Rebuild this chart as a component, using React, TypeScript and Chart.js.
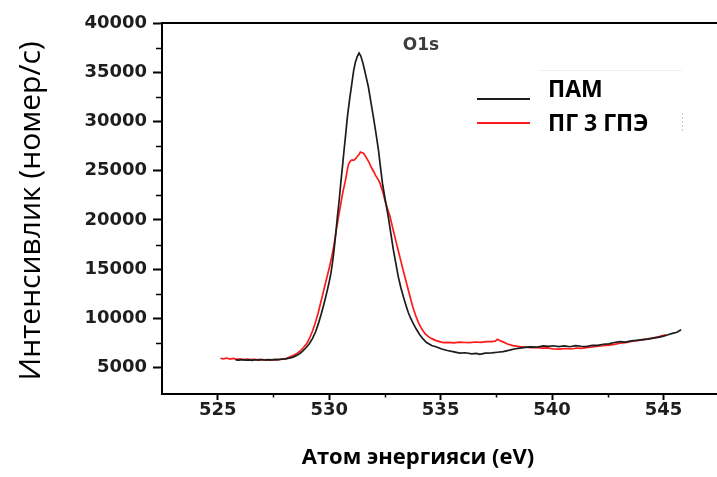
import React, { useEffect, useRef } from 'react';
import { Chart, registerables } from 'chart.js';

Chart.register(...registerables);

const W = 717;
const H = 477;

// Binding energy (eV) and intensity (counts/s) for the O1s region
const pamEnergy = [
  525.8, 525.95, 526.1, 526.25, 526.4, 526.55, 526.7, 526.85, 527.0, 527.15, 527.3, 527.45, 527.6, 527.75,
  527.9, 528.05, 528.2, 528.35, 528.5, 528.65, 528.8, 528.95, 529.1, 529.25, 529.4, 529.52, 529.65, 529.78,
  529.9, 530.0, 530.08, 530.15, 530.22, 530.3, 530.37, 530.45, 530.52, 530.6, 530.67, 530.75, 530.82, 530.92,
  531.02, 531.1, 531.18, 531.26, 531.34, 531.42, 531.5, 531.58, 531.66, 531.76, 531.87, 531.98, 532.1, 532.21,
  532.3, 532.39, 532.52, 532.65, 532.77, 532.88, 533.0, 533.1, 533.22, 533.33, 533.45, 533.55, 533.66, 533.77,
  533.9, 534.05, 534.2, 534.37, 534.6, 534.82, 535.05, 535.3, 535.6, 535.86, 536.1, 536.4, 536.6, 536.76,
  537.0, 537.3, 537.55, 537.8, 538.1, 538.3, 538.55, 538.8, 539.0, 539.3, 539.6, 539.85, 540.04, 540.3,
  540.55, 540.8, 541.05, 541.3, 541.53, 541.8, 542.05, 542.3, 542.55, 542.8, 543.03, 543.3, 543.55, 543.8,
  544.05, 544.3, 544.52, 544.75, 545.0, 545.2, 545.4, 545.6, 545.79,
];
const pamCounts = [
  5790, 5760, 5820, 5770, 5800, 5740, 5810, 5780, 5830, 5770, 5810, 5790, 5850, 5830,
  5880, 5900, 5980, 6050, 6200, 6400, 6650, 7000, 7400, 7950, 8700, 9500, 10500, 11600,
  12700, 13700, 14600, 15700, 16960, 18700, 20350, 22000, 23740, 25500, 27130, 28900, 30510, 32300,
  33900, 35200, 36050, 36600, 36950, 36650, 36050, 35300, 34500, 33500, 32000, 30510, 28800, 27130,
  25400, 23740, 22000, 20350, 18600, 16960, 15500, 14250, 13100, 12200, 11300, 10600, 10000, 9500,
  8950, 8400, 7950, 7550, 7250, 7100, 6900, 6750, 6600, 6480, 6520, 6410, 6450, 6360,
  6480, 6500, 6570, 6640, 6780, 6900, 6990, 7060, 7120, 7080, 7220, 7170, 7230, 7150,
  7210, 7130, 7240, 7180, 7150, 7280, 7260, 7380, 7420, 7560, 7640, 7600, 7720, 7780,
  7850, 7900, 8010, 8080, 8200, 8350, 8480, 8600, 8850,
];

const pgEnergy = [
  525.12, 525.25, 525.4, 525.55, 525.7, 525.85, 526.0, 526.15, 526.3, 526.45, 526.6, 526.75, 526.9, 527.05,
  527.2, 527.35, 527.5, 527.65, 527.8, 527.95, 528.1, 528.25, 528.4, 528.55, 528.7, 528.85, 529.0, 529.12,
  529.25, 529.37, 529.5, 529.62, 529.75, 529.88, 530.0, 530.12, 530.22, 530.32, 530.42, 530.52, 530.62, 530.72,
  530.8, 530.86, 530.94, 531.02, 531.1, 531.18, 531.26, 531.34, 531.4, 531.46, 531.54, 531.62, 531.7, 531.8,
  531.9, 532.0, 532.1, 532.2, 532.28, 532.4, 532.5, 532.62, 532.73, 532.85, 533.0, 533.1, 533.22, 533.33,
  533.48, 533.63, 533.75, 533.88, 534.0, 534.15, 534.3, 534.45, 534.6, 534.8, 535.12, 535.35, 535.6, 535.85,
  536.1, 536.31, 536.55, 536.8, 537.05, 537.3, 537.45, 537.55, 537.65, 537.8, 538.0, 538.25, 538.55, 538.8,
  539.05, 539.3, 539.55, 539.8, 540.05, 540.34, 540.6, 540.85, 541.1, 541.3, 541.53, 541.8, 542.05, 542.3,
  542.55, 542.8, 543.03, 543.3, 543.55, 543.8, 544.05, 544.3, 544.52, 544.8, 545.1,
];
const pgCounts = [
  5960, 5900, 5980, 5880, 5940, 5850, 5900, 5830, 5880, 5820, 5860, 5800, 5840, 5780,
  5830, 5770, 5820, 5790, 5860, 5900, 5950, 6100, 6250, 6450, 6700, 7050, 7490, 8000,
  8700, 9520, 10500, 11600, 12800, 14000, 15100, 16290, 17500, 19000, 20350, 21600, 22900, 23900,
  24900, 25600, 25950, 26100, 26050, 26200, 26450, 26650, 26900, 26850, 26790, 26500, 26200, 25800,
  25300, 24900, 24450, 24100, 23740, 22900, 22000, 21100, 20350, 19200, 17800, 16900, 15800, 14800,
  13500, 12200, 11200, 10300, 9600, 8950, 8450, 8150, 7950, 7750, 7550, 7580, 7520, 7600,
  7560, 7540, 7610, 7580, 7650, 7640, 7700, 7880, 7760, 7620, 7400, 7250, 7140, 7090,
  7030, 7060, 6980, 7010, 6900, 6880, 6950, 6900, 7000, 6960, 7040, 7120, 7180, 7230,
  7300, 7370, 7480, 7550, 7660, 7740, 7830, 7920, 8000, 8150, 8330,
];

const seriesNames = ['ПАМ', 'ПГ 3 ГПЭ'];
const seriesColors = ['#1c1c1c', '#ff1a1a'];

const xMajorTicks = [525, 530, 535, 540, 545];
const xMinorTicks = [527.5, 532.5, 537.5, 542.5];
const yMajorTicks = [5000, 10000, 15000, 20000, 25000, 30000, 35000, 40000];
const yMinorTicks = [7500, 12500, 17500, 22500, 27500, 32500, 37500];

const xTitle = 'Атом энергияси (eV)';
const yTitle = 'Интенсивлик (номер/с)';
const peakLabel = 'O1s';

// Frame top line, minor ticks, axis titles, peak label and the legend
const decorations = {
  id: 'decorations',
  afterDraw(chart: any) {
    const { ctx, chartArea, scales } = chart;
    const xs = scales.x;
    const ys = scales.y;
    ctx.save();

    // top edge of the frame
    ctx.strokeStyle = '#000';
    ctx.lineWidth = 2;
    ctx.beginPath();
    ctx.moveTo(chartArea.left - 1, chartArea.top);
    ctx.lineTo(chartArea.right, chartArea.top);
    ctx.stroke();

    // minor ticks
    ctx.lineWidth = 1.5;
    ctx.beginPath();
    for (const v of yMinorTicks) {
      const py = Math.round(ys.getPixelForValue(v)) + 0.5;
      ctx.moveTo(chartArea.left - 6, py);
      ctx.lineTo(chartArea.left, py);
    }
    for (const v of xMinorTicks) {
      const px = Math.round(xs.getPixelForValue(v)) + 0.5;
      ctx.moveTo(px, chartArea.bottom);
      ctx.lineTo(px, chartArea.bottom + 3.5);
    }
    ctx.stroke();

    // peak label
    ctx.fillStyle = '#3c3c3c';
    ctx.font = 'bold 17px "DejaVu Sans"';
    ctx.textAlign = 'left';
    ctx.textBaseline = 'alphabetic';
    ctx.fillText(peakLabel, xs.getPixelForValue(533.3), ys.getPixelForValue(37300));

    // x axis title
    ctx.fillStyle = '#000';
    ctx.font = 'bold 22px "Open Sans"';
    ctx.textAlign = 'center';
    ctx.fillText(xTitle, 418, 464);

    // y axis title
    ctx.save();
    ctx.translate(40, 211);
    ctx.rotate(-Math.PI / 2);
    ctx.font = '30px "Open Sans"';
    ctx.textAlign = 'center';
    ctx.fillText(yTitle, 0, 0);
    ctx.restore();

    // legend
    const rows = [99, 123];
    const textBase = [97, 131];
    ctx.lineWidth = 2;
    rows.forEach((ry, i) => {
      ctx.strokeStyle = seriesColors[i];
      ctx.beginPath();
      ctx.moveTo(477, ry);
      ctx.lineTo(530, ry);
      ctx.stroke();
    });
    ctx.fillStyle = '#000';
    ctx.font = 'bold 23px "Open Sans"';
    ctx.textAlign = 'left';
    seriesNames.forEach((name, i) => ctx.fillText(name, 548, textBase[i]));

    // faint legend box remnants
    ctx.strokeStyle = '#f1f1f1';
    ctx.lineWidth = 1;
    ctx.beginPath();
    ctx.moveTo(538, 70.5);
    ctx.lineTo(682, 70.5);
    ctx.stroke();
    ctx.strokeStyle = '#b8b8b8';
    ctx.setLineDash([1.5, 2.5]);
    ctx.beginPath();
    ctx.moveTo(682.5, 113);
    ctx.lineTo(682.5, 131);
    ctx.stroke();

    ctx.restore();
  },
};

export default function App() {
  const ref = useRef<HTMLCanvasElement>(null);

  useEffect(() => {
    const tickFont = { family: '"DejaVu Sans"', weight: 'bold' as const, size: 18 };
    const chart = new Chart(ref.current!, {
      type: 'scatter',
      data: {
        datasets: [
          {
            label: seriesNames[0],
            data: pamEnergy.map((x, i) => ({ x, y: pamCounts[i] })),
            showLine: true,
            borderColor: seriesColors[0],
            borderWidth: 1.7,
            pointRadius: 0,
            tension: 0,
          },
          {
            label: seriesNames[1],
            data: pgEnergy.map((x, i) => ({ x, y: pgCounts[i] })),
            showLine: true,
            borderColor: seriesColors[1],
            borderWidth: 1.7,
            pointRadius: 0,
            tension: 0,
          },
        ],
      },
      options: {
        responsive: false,
        animation: false,
        devicePixelRatio: 1,
        layout: { padding: { top: 23, right: 0, bottom: 0, left: 0 } },
        plugins: {
          legend: { display: false },
          tooltip: { enabled: false },
        },
        scales: {
          x: {
            type: 'linear',
            min: 522.5,
            max: 547.4,
            afterBuildTicks: (s: any) => {
              s.ticks = xMajorTicks.map((value) => ({ value }));
            },
            afterFit: (s: any) => {
              s.height = 83;
            },
            grid: { drawOnChartArea: false, tickLength: 6, tickWidth: 2, tickColor: '#000' },
            border: { color: '#000', width: 2 },
            ticks: {
              padding: 0,
              color: '#1e1e1e',
              font: tickFont,
              maxRotation: 0,
              autoSkip: false,
              callback: (v: any) => String(v),
            },
          },
          y: {
            type: 'linear',
            min: 2330,
            max: 40000,
            afterBuildTicks: (s: any) => {
              s.ticks = yMajorTicks.map((value) => ({ value }));
            },
            afterFit: (s: any) => {
              s.width = 162;
            },
            grid: { drawOnChartArea: false, tickLength: 9, tickWidth: 2, tickColor: '#000' },
            border: { color: '#000', width: 2 },
            ticks: {
              padding: 6,
              color: '#1e1e1e',
              font: tickFont,
              autoSkip: false,
              callback: (v: any) => String(v),
            },
          },
        },
      },
      plugins: [decorations],
    });
    return () => chart.destroy();
  }, []);

  return (
    <div style={{ position: 'absolute', left: 0, top: 0, width: W, height: H, background: '#fff' }}>
      <canvas ref={ref} width={W} height={H} style={{ display: 'block' }} />
    </div>
  );
}
